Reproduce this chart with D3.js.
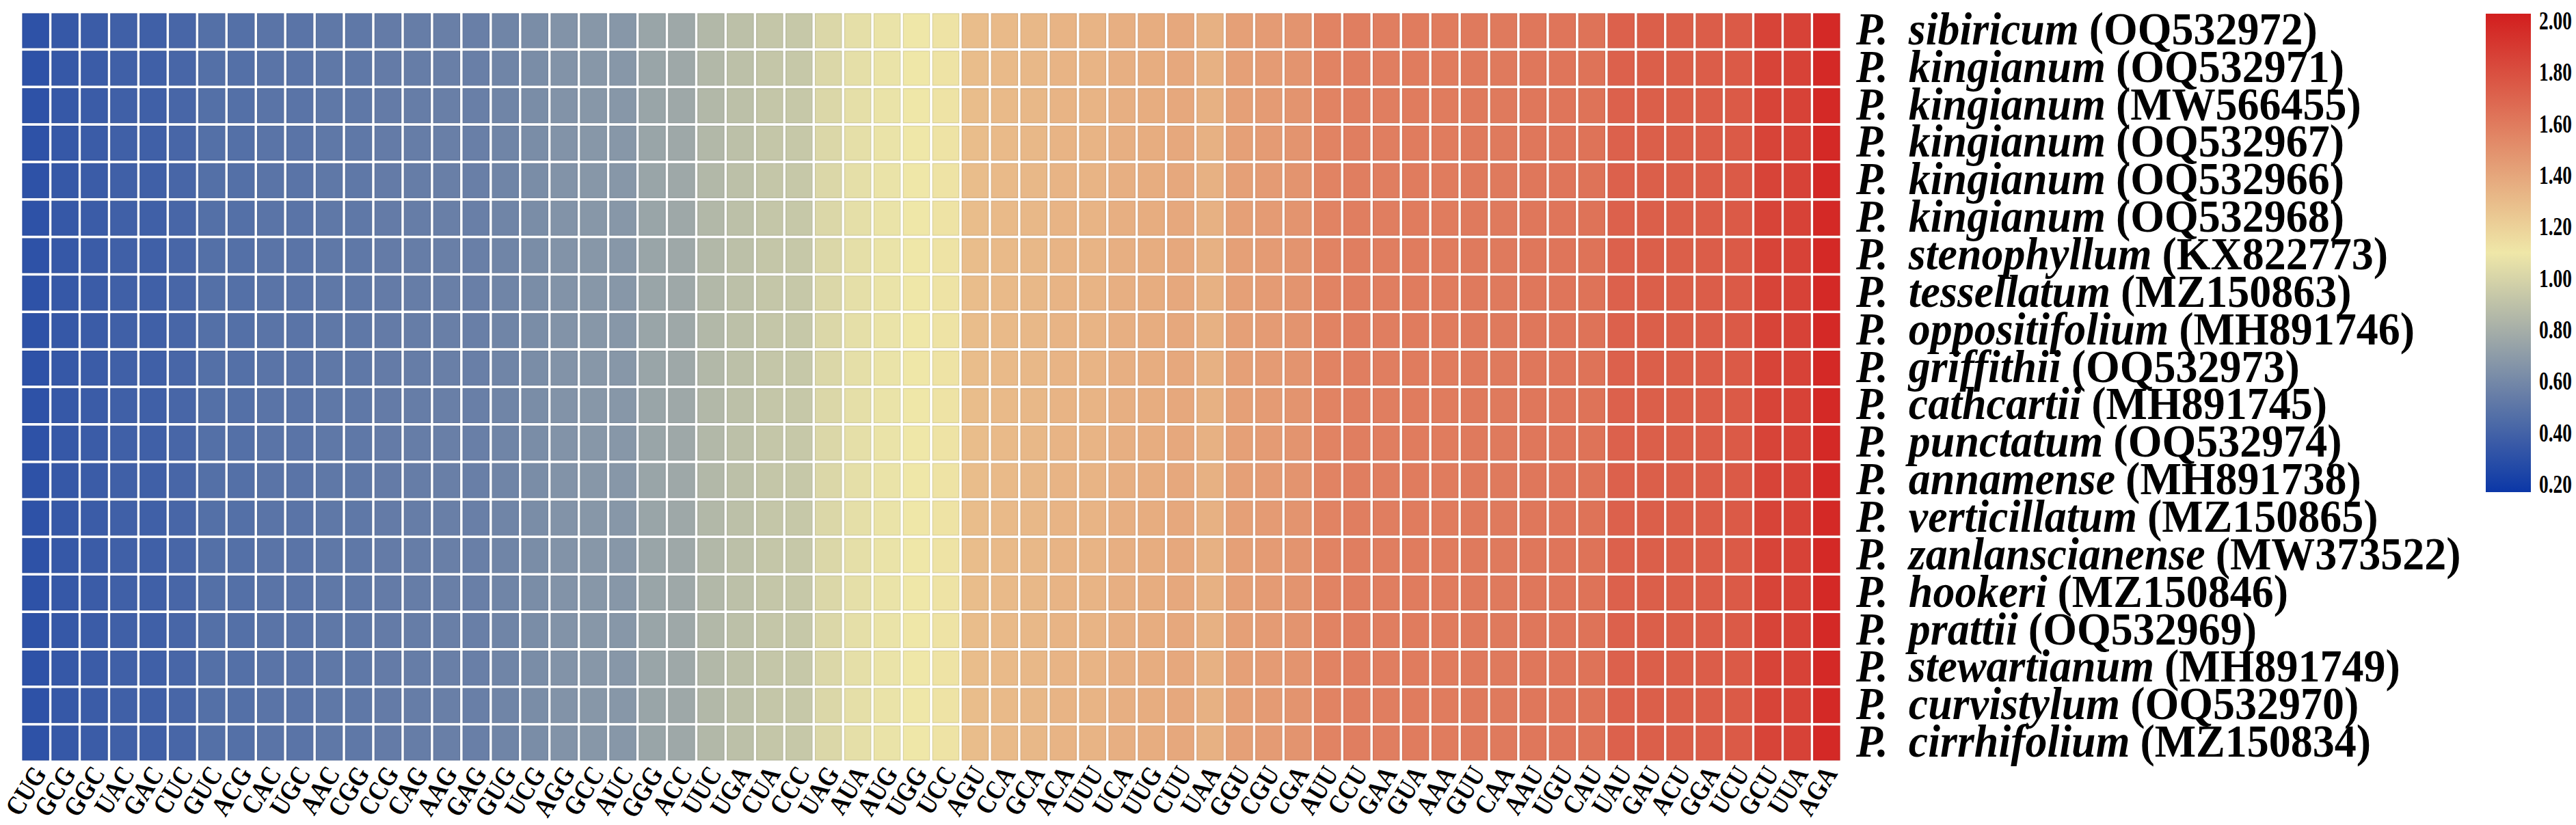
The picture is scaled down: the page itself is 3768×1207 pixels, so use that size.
<!DOCTYPE html>
<html>
<head>
<meta charset="utf-8">
<script src="https://cdn.jsdelivr.net/npm/d3@7"></script>
<style>
  html, body { margin: 0; padding: 0; background: #ffffff; }
  svg { display: block; }
</style>
</head>
<body>
<svg id="chart" width="3768" height="1207"></svg>
<script>
// ---- data ----
const codons = ["CUG","GCG","GGC","UAC","GAC","CUC","GUC","ACG","CAC","UGC","AAC","CGG","CCG","CAG","AAG","GAG",
  "GUG","UCG","AGG","GCC","AUC","GGG","ACC","UUC","UGA","CUA","CCC","UAG","AUA","AUG","UGG","UCC",
  "AGU","CCA","GCA","ACA","UUU","UCA","UUG","CUU","UAA","GGU","CGU","CGA","AUU","CCU","GAA","GUA",
  "AAA","GUU","CAA","AAU","UGU","CAU","UAU","GAU","ACU","GGA","UCU","GCU","UUA","AGA"];

const speciesNames = ["sibiricum","kingianum","kingianum","kingianum","kingianum","kingianum","stenophyllum",
  "tessellatum","oppositifolium","griffithii","cathcartii","punctatum","annamense","verticillatum",
  "zanlanscianense","hookeri","prattii","stewartianum","curvistylum","cirrhifolium"];

const accessions = ["OQ532972","OQ532971","MW566455","OQ532967","OQ532966","OQ532968","KX822773",
  "MZ150863","MH891746","OQ532973","MH891745","OQ532974","MH891738","MZ150865",
  "MW373522","MZ150846","OQ532969","MH891749","OQ532970","MZ150834"];

// RSCU per codon (every species row shows the same colour in the reference)
const rscu = [0.34,0.37,0.39,0.41,0.41,0.44,0.49,0.49,0.51,0.51,0.53,0.53,0.55,0.56,0.57,0.57,
  0.60,0.64,0.67,0.69,0.69,0.76,0.78,0.86,0.90,0.93,0.94,1.02,1.06,1.08,1.10,1.12,
  1.29,1.30,1.31,1.33,1.33,1.35,1.36,1.38,1.34,1.42,1.44,1.47,1.55,1.57,1.57,1.58,
  1.58,1.59,1.59,1.60,1.61,1.62,1.70,1.71,1.71,1.72,1.73,1.83,1.84,1.95];

const legendTicks = [2.00,1.80,1.60,1.40,1.20,1.00,0.80,0.60,0.40,0.20];

// ---- drawing ----
const FONT = "'Liberation Serif','Times New Roman',Times,serif";
const svg = d3.select("#chart");

const color = d3.scaleLinear()
  .domain([0.2, 1.1, 2.0])
  .range(["#0b37a7", "#efe7a8", "#d21e1e"])
  .clamp(true);

const rowKeys = speciesNames.map((s, i) => i);
const HM_LEFT = 33, HM_RIGHT = 2691, HM_TOP = 20, HM_BOTTOM = 1112;
const x = d3.scaleBand().domain(codons).range([HM_LEFT, HM_RIGHT]).paddingInner(0.11);
const y = d3.scaleBand().domain(rowKeys).range([HM_TOP, HM_BOTTOM]).paddingInner(0.09);

const cells = [];
rowKeys.forEach(r => codons.forEach((c, j) => cells.push({r, c, v: rscu[j]})));

svg.append("g").selectAll("rect").data(cells).join("rect")
  .attr("x", d => x(d.c))
  .attr("y", d => y(d.r))
  .attr("width", x.bandwidth())
  .attr("height", y.bandwidth())
  .attr("fill", d => color(d.v))
  .attr("stroke", d => d3.color(color(d.v)).darker(0.25))
  .attr("stroke-width", 1.2);

// codon labels (rotated, steep)
const xl = svg.append("g");
codons.forEach(c => {
  const cx = x(c) + x.bandwidth() / 2 + 17;
  const cy = HM_BOTTOM + 20;
  xl.append("text")
    .attr("transform", `translate(${cx},${cy}) rotate(-58) scale(0.92,1.08)`)
    .attr("text-anchor", "end")
    .attr("font-family", FONT)
    .attr("font-weight", "bold")
    .attr("font-size", 37)
    .attr("fill", "#000")
    .text(c);
});

// species labels
const yl = svg.append("g");
rowKeys.forEach(r => {
  const cy = y(r) + y.bandwidth() / 2;
  const t = yl.append("text")
    .attr("transform", `translate(2715,${cy + 20}) scale(1,1.06)`)
    .attr("font-family", FONT)
    .attr("font-weight", "bold")
    .attr("font-size", 64)
    .attr("fill", "#000");
  t.append("tspan").attr("font-style", "italic").text("P.");
  t.append("tspan").attr("font-style", "italic").attr("dx", 30).text(speciesNames[r]);
  t.append("tspan").attr("dx", 15).text("(" + accessions[r] + ")");
});

// legend
const defs = svg.append("defs");
const grad = defs.append("linearGradient").attr("id", "lg")
  .attr("x1", "0%").attr("y1", "100%").attr("x2", "0%").attr("y2", "0%");
d3.range(0, 1.0001, 0.05).forEach(f => {
  const v = 0.2 + f * 1.8;
  grad.append("stop").attr("offset", (f * 100) + "%").attr("stop-color", color(v));
});
const lgTop = 20, lgBot = 720, lgX = 3636, lgW = 66;
svg.append("rect").attr("x", lgX).attr("y", lgTop).attr("width", lgW).attr("height", lgBot - lgTop)
  .attr("fill", "url(#lg)");
const ly = d3.scaleLinear().domain([2.0, 0.2]).range([lgTop + 10, lgBot - 12]);
svg.append("g").selectAll("text").data(legendTicks).join("text")
  .attr("transform", d => `translate(${lgX + lgW + 12},${ly(d) + 13}) scale(0.72,1)`)
  .attr("font-family", FONT)
  .attr("font-weight", "bold")
  .attr("font-size", 38)
  .attr("fill", "#000")
  .text(d => d.toFixed(2));
</script>
</body>
</html>
